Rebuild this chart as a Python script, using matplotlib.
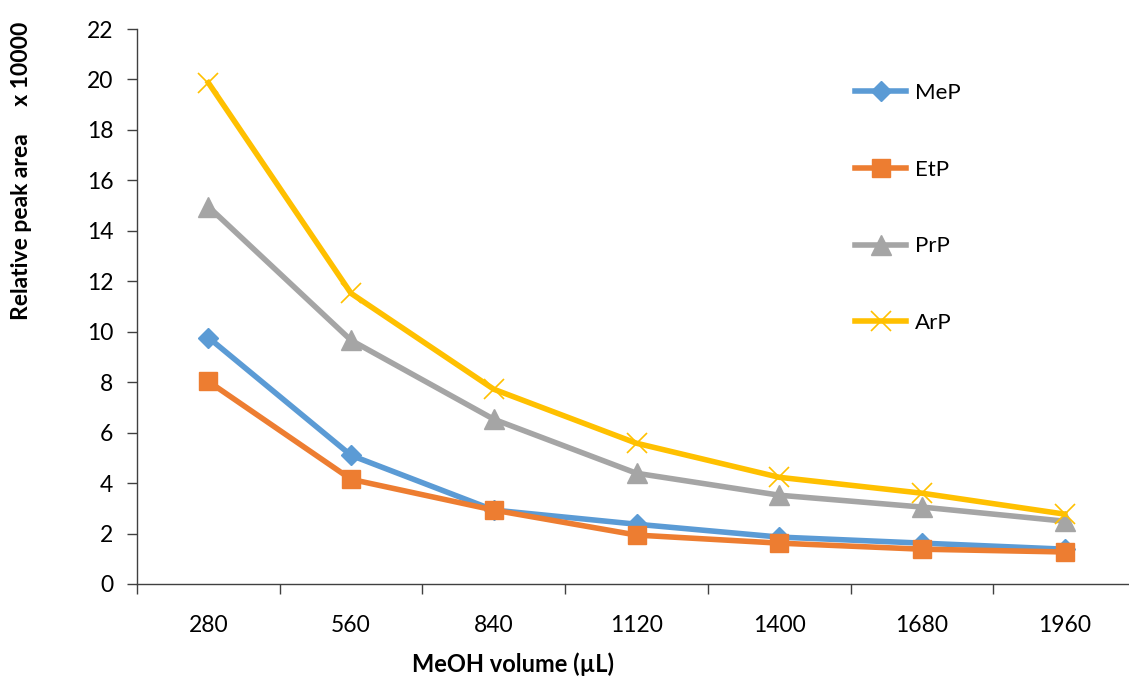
import numpy as np
import matplotlib
matplotlib.use('Agg')
import matplotlib.pyplot as plt

plt.rcParams['font.family'] = ['Lato', 'DejaVu Sans']

# data (values x 10000)
volumes = ['280', '560', '840', '1120', '1400', '1680', '1960']
mep = [9.77, 5.1, 2.93, 2.37, 1.86, 1.62, 1.38]
etp = [8.03, 4.15, 2.93, 1.94, 1.62, 1.38, 1.27]
prp = [14.96, 9.66, 6.53, 4.39, 3.52, 3.05, 2.49]
arp = [19.87, 11.52, 7.72, 5.58, 4.23, 3.6, 2.77]

fig = plt.figure(figsize=(11.29, 6.82), dpi=100)
W, H = 1129, 682
ax = fig.add_axes([137 / W, (H - 584) / H, (1136 - 137) / W, (584 - 29) / H])

x = np.arange(len(volumes))
ax.plot(x, mep, color='#5B9BD5', lw=4, marker='D', ms=10, label='MeP')
ax.plot(x, etp, color='#ED7D31', lw=4, marker='s', ms=13, label='EtP')
ax.plot(x, prp, color='#A5A5A5', lw=4, marker='^', ms=14, label='PrP')
ax.plot(x, arp, color='#FFC000', lw=4, marker='x', ms=14, mew=1.2, label='ArP')

ax.set_xlim(-0.5, len(volumes) - 0.5)
ax.set_ylim(0, 22)
ax.set_yticks(np.arange(0, 23, 2))
ax.set_xticks(np.arange(-0.5, len(volumes), 1))
ax.set_xticklabels([])
ax.set_xticks(x, minor=True)
ax.set_xticklabels(volumes, minor=True)
ax.tick_params(axis='x', which='major', length=7, width=1, color='#404040')
ax.tick_params(axis='x', which='minor', length=0, pad=22, labelsize=16.5)
ax.tick_params(axis='y', length=7, width=1, color='#404040', labelsize=16.5, pad=10)

for s in ['top', 'right']:
    ax.spines[s].set_visible(False)
for s in ['left', 'bottom']:
    ax.spines[s].set_color('#404040')
    ax.spines[s].set_linewidth(1)

ax.legend(loc='upper left', bbox_to_anchor=((835 - 137) / 999, 1 - (63 - 29) / 555),
          frameon=False, fontsize=16, labelspacing=2.55, handlelength=2.3,
          handletextpad=0.4)

fig.text(513 / W, 1 - 664 / H, 'MeOH volume (µL)', ha='center', va='center',
         fontsize=17, fontweight='bold')
fig.text(22 / W, 1 - 171 / H, 'Relative peak area     x 10000', ha='center',
         va='center', rotation=90, fontsize=16.5, fontweight='bold')

fig.savefig('out.png', dpi=100)
